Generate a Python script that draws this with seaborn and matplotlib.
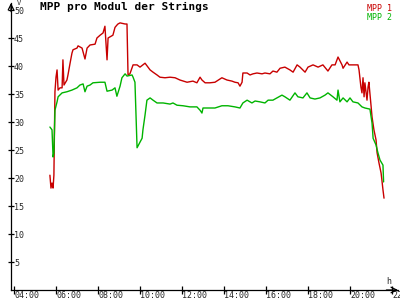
import matplotlib
matplotlib.use("Agg")
import matplotlib.pyplot as plt
from matplotlib.lines import Line2D
import pandas as pd
import seaborn as sns

# ---- data (hours, volts) ----
mpp1_time = [5.71, 5.76, 5.81, 5.86, 5.90, 5.95, 6.00, 6.05, 6.10, 6.19, 6.29, 6.33, 6.38,
             6.52, 6.57, 6.67, 6.76, 6.81, 7.00, 7.05, 7.24, 7.38, 7.48, 7.62, 7.86, 7.95,
             8.10, 8.24, 8.33, 8.43, 8.48, 8.57, 8.71, 8.81, 8.90, 8.95, 9.05, 9.29, 9.38,
             9.43, 9.52, 9.67, 9.86, 10.00, 10.24, 10.48, 10.62, 10.81, 10.95, 11.19, 11.43,
             11.67, 11.90, 12.24, 12.52, 12.71, 12.86, 12.95, 13.10, 13.33, 13.57, 13.90,
             14.14, 14.38, 14.52, 14.67, 14.76, 14.86, 14.90, 15.10, 15.24, 15.38, 15.57,
             15.81, 15.95, 16.19, 16.33, 16.52, 16.67, 16.90, 17.14, 17.29, 17.48, 17.62,
             17.86, 18.00, 18.24, 18.48, 18.71, 18.95, 19.14, 19.29, 19.43, 19.62, 19.67,
             19.86, 19.95, 20.10, 20.38, 20.43, 20.52, 20.57, 20.62, 20.67, 20.71, 20.81,
             20.86, 20.90, 21.00, 21.05, 21.14, 21.24, 21.29, 21.38, 21.48, 21.52, 21.57, 21.62]
mpp1_volt = [20.5, 18.2, 19.1, 18.2, 20.5, 35.4, 38.0, 39.3, 35.7, 36.1, 36.1, 41.1, 36.6,
             37.5, 38.4, 40.5, 42.3, 42.9, 43.2, 43.6, 43.2, 41.25, 43.2, 43.75, 43.9, 45.0,
             45.5, 45.9, 47.1, 41.1, 45.0, 45.2, 45.5, 46.9, 47.3, 47.5, 47.7, 47.5, 47.5,
             38.4, 38.6, 40.2, 40.2, 39.8, 40.5, 39.3, 38.9, 38.4, 38.0, 37.9, 38.0,
             37.9, 37.5, 37.1, 37.3, 37.0, 38.0, 37.5, 37.0, 37.0, 37.1, 37.9,
             37.5, 37.3, 37.1, 37.0, 36.4, 37.1, 38.75, 38.75, 38.4, 38.6, 38.75,
             38.6, 38.75, 38.6, 39.1, 38.9, 39.6, 39.8, 39.3, 38.9, 40.2, 39.8,
             38.9, 39.8, 40.2, 39.8, 40.2, 39.1, 40.2, 40.2, 41.6, 40.2, 39.6,
             40.7, 40.2, 40.2, 40.2, 39.3, 36.25, 35.2, 37.9, 34.5, 37.0, 33.9,
             36.25, 37.1, 33.0, 30.9, 28.6, 26.8, 24.5, 22.7, 20.9, 19.6, 17.9, 16.4]

mpp2_time = [5.71, 5.81, 5.86, 5.90, 5.95, 6.05, 6.10, 6.29, 6.52, 6.76, 7.00, 7.14, 7.29,
             7.38, 7.48, 7.62, 7.76, 8.10, 8.33, 8.43, 8.67, 8.81, 8.90, 9.05, 9.14, 9.29,
             9.38, 9.62, 9.67, 9.76, 9.86, 10.00, 10.10, 10.14, 10.24, 10.33, 10.48, 10.62,
             10.81, 11.10, 11.43, 11.57, 11.76, 12.05, 12.38, 12.71, 12.86, 12.95, 13.00,
             13.33, 13.57, 13.90, 14.19, 14.52, 14.76, 14.90, 15.10, 15.33, 15.48, 15.71,
             15.95, 16.10, 16.33, 16.52, 16.76, 16.90, 17.14, 17.38, 17.52, 17.76, 17.95,
             18.10, 18.33, 18.57, 18.81, 18.95, 19.19, 19.38, 19.43, 19.52, 19.67, 19.86,
             20.00, 20.14, 20.38, 20.57, 20.71, 20.95, 21.05, 21.10, 21.24, 21.33, 21.43,
             21.57, 21.60]
mpp2_volt = [29.1, 28.6, 23.75, 24.5, 32.1, 33.6, 34.5, 35.2, 35.4, 35.7, 36.1, 36.6, 36.8,
             35.4, 36.4, 36.6, 37.0, 37.1, 37.1, 35.5, 35.7, 36.1, 34.6, 36.4, 37.9, 38.6,
             38.2, 38.4, 38.0, 37.1, 25.4, 26.4, 27.1, 28.6, 31.25, 33.9, 34.3, 33.9,
             33.4, 33.4, 33.2, 33.4, 33.0, 32.9, 32.7, 32.7, 32.1, 31.6, 32.5,
             32.5, 32.5, 32.9, 32.9, 32.7, 32.5, 33.4, 33.9, 33.4, 33.75, 33.6,
             33.4, 33.9, 33.9, 34.3, 34.8, 34.5, 33.9, 35.2, 34.5, 34.3, 35.2,
             34.3, 34.1, 34.3, 34.8, 35.2, 34.5, 33.9, 35.7, 33.6, 34.3, 33.6,
             34.3, 33.6, 33.4, 32.7, 32.5, 32.3, 29.8, 27.1, 25.9, 24.5, 23.2,
             22.3, 19.3]

series_names = ["MPP 1", "MPP 2"]
series_colors = ["#c80000", "#00b400"]
y_ticks = [5, 10, 15, 20, 25, 30, 35, 40, 45, 50]
x_ticks = [4, 6, 8, 10, 12, 14, 16, 18, 20, 22]
x_tick_labels = ["04:00", "06:00", "08:00", "10:00", "12:00", "14:00", "16:00",
                 "18:00", "20:00", "22:00"]
title = "MPP pro Modul der Strings"

df = pd.concat([
    pd.DataFrame({"t": mpp1_time, "v": mpp1_volt, "s": series_names[0]}),
    pd.DataFrame({"t": mpp2_time, "v": mpp2_volt, "s": series_names[1]}),
])

sns.set_style("white")
plt.rcParams["font.family"] = ["DejaVu Sans Mono"]

fig = plt.figure(figsize=(4, 3), dpi=100)
ax = fig.add_axes([11 / 400, 10 / 300, 387 / 400, 287 / 300])

palette = dict(zip(series_names, series_colors))
sns.lineplot(data=df, x="t", y="v", hue="s", palette=palette, estimator=None,
             sort=False, linewidth=1.0, legend=False, ax=ax)

ax.set_xlim(3.857, 22.286)
ax.set_ylim(0, 51.25)

for side in ["top", "right"]:
    ax.spines[side].set_visible(False)
for side in ["left", "bottom"]:
    ax.spines[side].set_color("black")
    ax.spines[side].set_linewidth(0.9)

# axis arrows
ax.annotate("", xy=(1.0, 0), xytext=(0.97, 0), xycoords="axes fraction",
            arrowprops=dict(arrowstyle="->", lw=0.9, color="black", shrinkA=0, shrinkB=0))
ax.annotate("", xy=(0, 1.0), xytext=(0, 0.97), xycoords="axes fraction",
            arrowprops=dict(arrowstyle="->", lw=0.9, color="black", shrinkA=0, shrinkB=0))

ax.set_yticks(y_ticks)
ax.set_yticklabels([str(v) for v in y_ticks])
ax.tick_params(axis="y", direction="inout", length=4, width=0.9, color="black",
               labelsize=6, pad=-4.2, left=True)
for lab in ax.get_yticklabels():
    lab.set_horizontalalignment("left")

ax.set_xticks(x_ticks)
ax.set_xticklabels(x_tick_labels)
ax.tick_params(axis="x", direction="inout", length=6, width=0.9, color="black",
               labelsize=6, pad=-2.5, bottom=True)
for lab in ax.get_xticklabels():
    lab.set_horizontalalignment("left")

ax.set_xlabel("h", fontsize=6)
ax.xaxis.set_label_coords(0.969, 0.045)
ax.xaxis.label.set_horizontalalignment("left")
ax.set_ylabel("V", fontsize=5, rotation=0)
ax.yaxis.set_label_coords(0.015, 1.012)
ax.yaxis.label.set_horizontalalignment("left")
ax.yaxis.label.set_verticalalignment("top")

ax.text(40 / 400, 1 - 2 / 300, title, transform=fig.transFigure, fontsize=8,
        fontweight="bold", ha="left", va="top", color="black")

handles = [Line2D([], [], color=c, lw=0) for c in series_colors]
leg = ax.legend(handles, series_names, loc="upper right", bbox_to_anchor=(0.995, 1.012),
                handlelength=0, handletextpad=0, borderpad=0, labelspacing=0.05,
                frameon=False, fontsize=6, labelcolor=series_colors)

fig.savefig("out.png", dpi=100)
